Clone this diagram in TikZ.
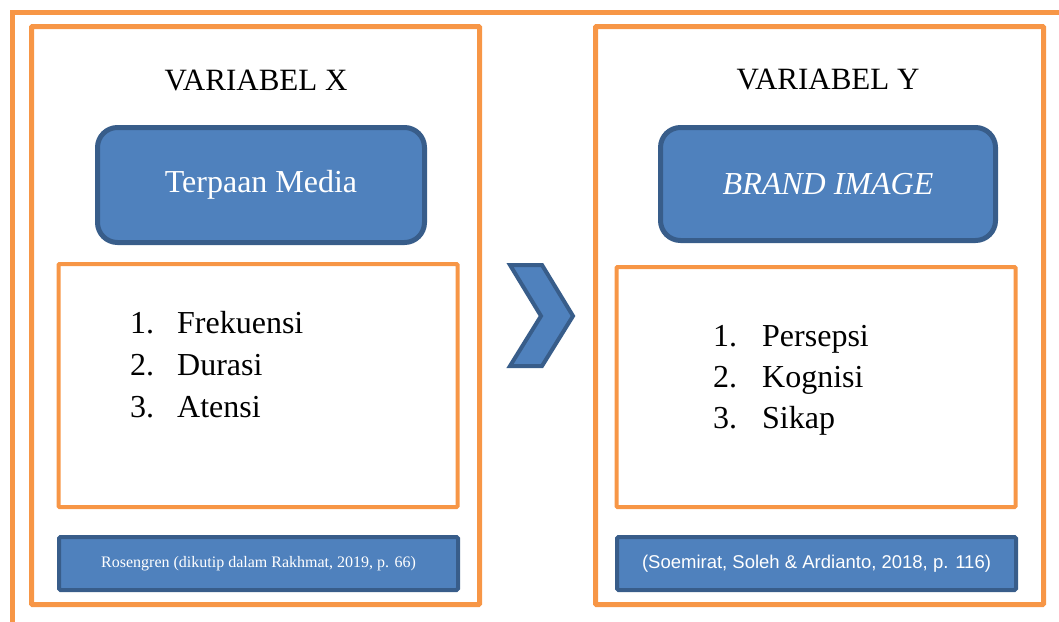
\documentclass[tikz,border=0pt]{standalone}
\usepackage{fontspec}
\setmainfont{Liberation Serif}
\newfontfamily\arialfont{Liberation Sans}
\usetikzlibrary{positioning}
\definecolor{cFrame}{HTML}{F79646}
\definecolor{cBox}{HTML}{4F81BD}
\definecolor{cBoxLine}{HTML}{385D8A}
\tikzset{
  panel/.style={draw=cFrame, line width=5pt, rounded corners=1pt,
                inner sep=0pt, outer sep=0pt},
  listbox/.style={draw=cFrame, line width=4pt, rounded corners=1pt,
                  inner sep=0pt, outer sep=0pt},
  headbox/.style={draw=cBoxLine, fill=cBox, line width=5pt, rounded corners=20pt,
                  text=white, inner sep=0pt, outer sep=0pt,
                  font=\fontsize{32}{38}\selectfont},
  citebox/.style={draw=cBoxLine, fill=cBox, line width=4pt, rounded corners=1.5pt,
                  text=white, inner sep=0pt, outer sep=0pt},
  ttl/.style={inner sep=0pt, font=\fontsize{31}{37}\selectfont},
  itm/.style={inner sep=0pt, anchor=base west, font=\fontsize{32}{38}\selectfont},
}
\begin{document}
\begin{tikzpicture}[x=1pt, y=-1pt]
  \useasboundingbox (0,0) rectangle (1059,621);
  % outer frame, only top and left sides visible
  \draw[cFrame, line width=5pt] (12,630) -- (12,12.5) -- (1070,12.5);

  % left: variabel x
  \node[panel, minimum width=448pt, minimum height=578pt] (px) at (255.5,315.5) {};
  \node[ttl] (tx) at (256,81) {VARIABEL X};
  \node[headbox, minimum width=327pt, minimum height=115pt] (hx) at (261,185) {Terpaan Media};
  \node[listbox, minimum width=399pt, minimum height=243pt] (lx) at (258,385.5) {};
  \foreach \t [count=\i] in {Frekuensi,Durasi,Atensi}
    \node[itm] (x\i) at (130,291+42*\i) {\makebox[47pt][l]{\i.}\t};
  \node[citebox, minimum width=399pt, minimum height=53pt,
        font=\fontsize{16}{19}\selectfont] (cx) at (258.5,563.5)
    {Rosengren (dikutip dalam Rakhmat, 2019, p. 66)};

  % chevron between the two panels
  \draw[cBoxLine, fill=cBox, line width=4pt, line join=miter]
    (510,265) -- (542,265) -- (573,316) -- (542,366) -- (510,366) -- (541,316) -- cycle;

  % right: variabel y
  \node[panel, minimum width=448pt, minimum height=578pt] (py) at (819.5,315.5) {};
  \node[ttl] (ty) at (828,80) {VARIABEL Y};
  \node[headbox, minimum width=335pt, minimum height=113pt] (hy) at (828,184)
    {\itshape BRAND IMAGE};
  \node[listbox, minimum width=399pt, minimum height=240pt] (ly) at (816,387) {};
  \foreach \t [count=\i] in {Persepsi,Kognisi,Sikap}
    \node[itm] (y\i) at (713,305+41*\i) {\makebox[49pt][l]{\i.}\t};
  \node[citebox, minimum width=399pt, minimum height=53pt,
        font=\arialfont\fontsize{18.5}{22}\selectfont] (cy) at (816.5,563.5)
    {(Soemirat, Soleh \& Ardianto, 2018, p. 116)};
\end{tikzpicture}
\end{document}
